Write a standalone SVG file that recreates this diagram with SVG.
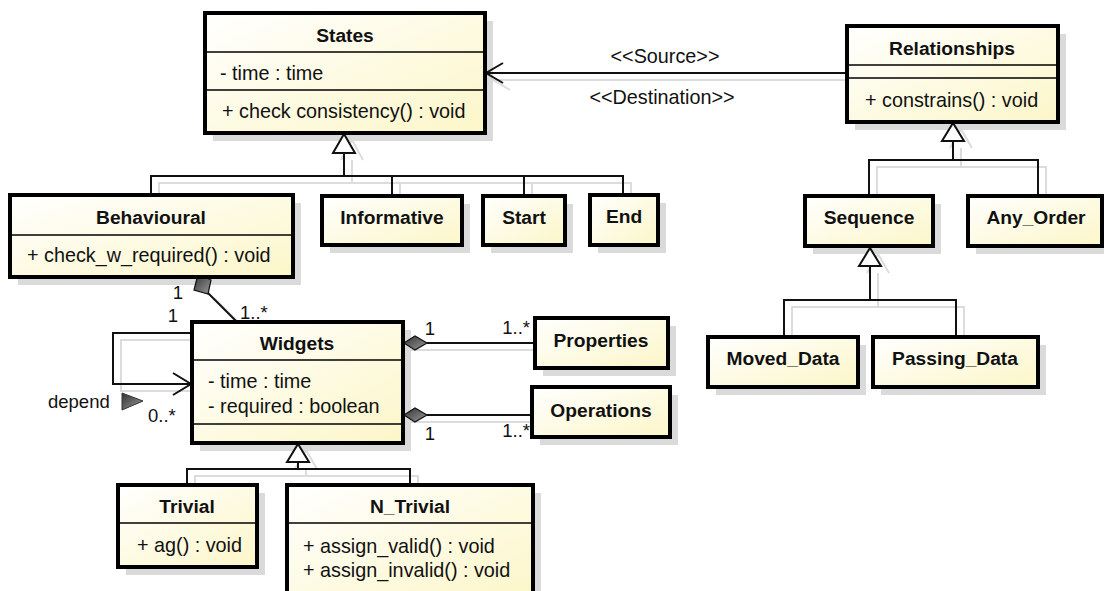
<svg xmlns="http://www.w3.org/2000/svg" width="1104" height="591" viewBox="0 0 1104 591">
<defs>
<linearGradient id="fillg" x1="0" y1="0" x2="1" y2="1">
<stop offset="0" stop-color="#ffffff"/>
<stop offset="1" stop-color="#fcf6c8"/>
</linearGradient>
<linearGradient id="dia" x1="0" y1="0" x2="1" y2="1">
<stop offset="0" stop-color="#333333"/>
<stop offset="1" stop-color="#999999"/>
</linearGradient>
<style>
.sh{fill:#dadada;}
.box{fill:url(#fillg);stroke:#000;stroke-width:4;}
.div{stroke:#000;stroke-width:1.5;fill:none;}
.t{font-family:"Liberation Sans",Arial,sans-serif;font-size:19.8px;fill:#111;}
.b{font-weight:bold;text-anchor:middle;font-size:19.2px;}
.m{font-family:"Liberation Sans",Arial,sans-serif;font-size:18.5px;fill:#111;}
.ln{stroke:#111;stroke-width:2;fill:none;}
.lns{stroke:#dcdcdc;stroke-width:2;fill:none;}
.tri{fill:#fff;stroke:#111;stroke-width:2;}
.tris{fill:none;stroke:#dcdcdc;stroke-width:2;}
</style>
</defs>
<rect width="1104" height="591" fill="#fff"/>

<g id="connector-shadows">
<polyline class="lns" points="352,160 352,183"/>
<polyline class="lns" points="159,203 159,183 631,183 631,202"/>
<line class="lns" x1="400" y1="183" x2="400" y2="203"/>
<line class="lns" x1="532" y1="183" x2="532" y2="203"/>
<polyline class="tris" points="341,160 352,140 363,160"/>
<line class="lns" x1="847" y1="80" x2="493" y2="80"/>
<polyline class="lns" points="510,90 493,80"/>
<polyline class="lns" points="961,148 961,167"/>
<polyline class="lns" points="877,203 877,167 1046,167 1046,203"/>
<polyline class="tris" points="950,148 961,129 972,148"/>
<polyline class="lns" points="878,273 878,307"/>
<polyline class="lns" points="792,344 792,307 964,307 964,344"/>
<polyline class="tris" points="867,273 878,254 889,273"/>
<polyline class="lns" points="306,469 306,476"/>
<polyline class="lns" points="195,492 195,476 418,476 418,492"/>
<polyline class="tris" points="295,469 306,450 317,469"/>
<polyline class="lns" points="200,340 121,340 121,391 200,391"/>
<line class="lns" x1="411" y1="350" x2="543" y2="350"/>
<line class="lns" x1="411" y1="422" x2="540" y2="422"/>
<line class="lns" x1="215" y1="299" x2="245" y2="329"/>
</g>

<g id="shadows">
<rect class="sh" x="213" y="21" width="280" height="120"/>
<rect class="sh" x="855" y="34" width="211" height="96"/>
<rect class="sh" x="18" y="203" width="283" height="82"/>
<rect class="sh" x="330" y="204" width="140" height="49"/>
<rect class="sh" x="491" y="204" width="82" height="49"/>
<rect class="sh" x="598" y="203" width="68" height="50"/>
<rect class="sh" x="813" y="204" width="128" height="50"/>
<rect class="sh" x="976" y="204" width="134" height="50"/>
<rect class="sh" x="716" y="345" width="150" height="50"/>
<rect class="sh" x="881" y="345" width="165" height="50"/>
<rect class="sh" x="200" y="330" width="211" height="121"/>
<rect class="sh" x="543" y="326" width="133" height="50"/>
<rect class="sh" x="540" y="395" width="138" height="50"/>
<rect class="sh" x="126" y="493" width="139" height="82"/>
<rect class="sh" x="295" y="493" width="246" height="115"/>
</g>

<g id="connectors">
<!-- States generalization -->
<polyline class="ln" points="344,153 344,176"/>
<polyline class="ln" points="151,195 151,176 623,176 623,195"/>
<line class="ln" x1="392" y1="176" x2="392" y2="196"/>
<line class="ln" x1="524" y1="176" x2="524" y2="196"/>
<polygon class="tri" points="333,153 344,134 355,153"/>
<!-- Relationships to States -->
<line class="ln" x1="847" y1="73" x2="486" y2="73"/>
<polyline class="ln" points="503,63 486,73 503,83"/>
<!-- Relationships generalization -->
<polyline class="ln" points="953,141 953,160"/>
<polyline class="ln" points="869,196 869,160 1038,160 1038,196"/>
<polygon class="tri" points="942,141 953,123 964,141"/>
<!-- Sequence generalization -->
<polyline class="ln" points="870,266 870,300"/>
<polyline class="ln" points="784,337 784,300 956,300 956,337"/>
<polygon class="tri" points="859,266 870,248 881,266"/>
<!-- Widgets generalization -->
<polyline class="ln" points="298,462 298,469"/>
<polyline class="ln" points="187,485 187,469 410,469 410,485"/>
<polygon class="tri" points="287,462 298,444 309,462"/>
<!-- Behavioural - Widgets composition -->
<line class="ln" x1="207" y1="292" x2="237" y2="322"/>
<polygon points="198,274 211,280 208,294 194,290" fill="url(#dia)" stroke="#111" stroke-width="1.2"/>
<!-- depend self association -->
<polyline class="ln" points="192,333 113,333 113,384 191,384"/>
<polyline class="ln" points="173,373 191,384 173,395"/>
<!-- Widgets - Properties -->
<line class="ln" x1="427" y1="343" x2="535" y2="343"/>
<polygon points="404,343 415,336 427,343 415,350" fill="url(#dia)" stroke="#111" stroke-width="1.2"/>
<!-- Widgets - Operations -->
<line class="ln" x1="427" y1="415" x2="532" y2="415"/>
<polygon points="404,415 415,408 427,415 415,422" fill="url(#dia)" stroke="#111" stroke-width="1.2"/>
</g>

<g id="labels">
<text class="t" x="665" y="63" text-anchor="middle">&lt;&lt;Source&gt;&gt;</text>
<text class="t" x="662" y="104" text-anchor="middle">&lt;&lt;Destination&gt;&gt;</text>
<text class="m" x="178" y="299" text-anchor="middle">1</text>
<text class="m" x="173" y="322" text-anchor="middle">1</text>
<text class="m" x="240" y="319">1..*</text>
<text class="m" x="48" y="408">depend</text>
<polygon points="122,393 143,401 122,410" fill="url(#dia)" stroke="#333" stroke-width="1"/>
<text class="m" x="148" y="422">0..*</text>
<text class="m" x="430" y="335" text-anchor="middle">1</text>
<text class="m" x="530" y="334" text-anchor="end">1..*</text>
<text class="m" x="430" y="440" text-anchor="middle">1</text>
<text class="m" x="530" y="437" text-anchor="end">1..*</text>
</g>

<g id="States">
<rect class="box" x="205" y="13" width="280" height="120"/>
<line class="div" x1="205" y1="52" x2="485" y2="52"/>
<line class="div" x1="205" y1="90" x2="485" y2="90"/>
<text class="t b" x="345" y="42">States</text>
<text class="t" x="220" y="80">- time : time</text>
<text class="t" x="222" y="118">+ check consistency() : void</text>
</g>

<g id="Relationships">
<rect class="box" x="847" y="26" width="211" height="96"/>
<line class="div" x1="847" y1="65" x2="1058" y2="65"/>
<line class="div" x1="847" y1="78" x2="1058" y2="78"/>
<text class="t b" x="952" y="55">Relationships</text>
<text class="t" x="865" y="107">+ constrains() : void</text>
</g>

<g id="Behavioural">
<rect class="box" x="10" y="195" width="283" height="82"/>
<line class="div" x1="10" y1="235" x2="293" y2="235"/>
<text class="t b" x="151" y="224">Behavioural</text>
<text class="t" x="27" y="262">+ check_w_required() : void</text>
</g>

<g id="Informative">
<rect class="box" x="322" y="196" width="140" height="49"/>
<text class="t b" x="392" y="224">Informative</text>
</g>

<g id="Start">
<rect class="box" x="483" y="196" width="82" height="49"/>
<text class="t b" x="524" y="224">Start</text>
</g>

<g id="End">
<rect class="box" x="590" y="195" width="68" height="50"/>
<text class="t b" x="624" y="223">End</text>
</g>

<g id="Sequence">
<rect class="box" x="805" y="196" width="128" height="50"/>
<text class="t b" x="869" y="224">Sequence</text>
</g>

<g id="Any_Order">
<rect class="box" x="968" y="196" width="134" height="50"/>
<text class="t b" x="1036" y="224">Any_Order</text>
</g>

<g id="Moved_Data">
<rect class="box" x="708" y="337" width="150" height="50"/>
<text class="t b" x="783" y="365">Moved_Data</text>
</g>

<g id="Passing_Data">
<rect class="box" x="873" y="337" width="165" height="50"/>
<text class="t b" x="955" y="365">Passing_Data</text>
</g>

<g id="Widgets">
<rect class="box" x="192" y="322" width="211" height="121"/>
<line class="div" x1="192" y1="360" x2="403" y2="360"/>
<line class="div" x1="192" y1="424" x2="403" y2="424"/>
<text class="t b" x="297" y="350">Widgets</text>
<text class="t" x="208" y="388">- time : time</text>
<text class="t" x="208" y="413">- required : boolean</text>
</g>

<g id="Properties">
<rect class="box" x="535" y="318" width="133" height="50"/>
<text class="t b" x="601" y="347">Properties</text>
</g>

<g id="Operations">
<rect class="box" x="532" y="387" width="138" height="50"/>
<text class="t b" x="601" y="417">Operations</text>
</g>

<g id="Trivial">
<rect class="box" x="118" y="485" width="139" height="82"/>
<line class="div" x1="118" y1="523" x2="257" y2="523"/>
<text class="t b" x="187" y="513">Trivial</text>
<text class="t" x="137" y="552">+ ag() : void</text>
</g>

<g id="N_Trivial">
<rect class="box" x="287" y="485" width="246" height="115"/>
<line class="div" x1="287" y1="523" x2="533" y2="523"/>
<text class="t b" x="410" y="513">N_Trivial</text>
<text class="t" x="303" y="553">+ assign_valid() : void</text>
<text class="t" x="303" y="577">+ assign_invalid() : void</text>
</g>
</svg>
